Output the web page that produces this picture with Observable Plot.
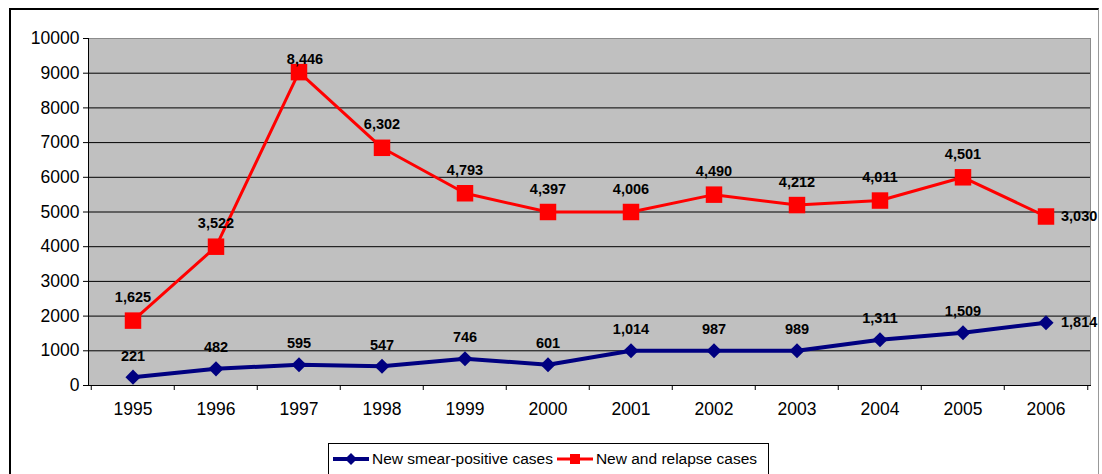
<!DOCTYPE html>
<html>
<head>
<meta charset="utf-8">
<script src="https://cdn.jsdelivr.net/npm/d3@7"></script>
<script src="https://cdn.jsdelivr.net/npm/@observablehq/plot@0.6"></script>
<style>
  html, body { margin: 0; padding: 0; background: #fff; }
  #wrap { position: relative; width: 1102px; height: 474px; overflow: hidden; font-family: "Liberation Sans", Arial, sans-serif; }
  #outer { position: absolute; left: 9px; top: 8px; width: 1090px; height: 500px; border-top: 2px solid #000; border-left: 2px solid #000; border-right: 1px solid #999; box-sizing: border-box; }
  #chart { position: absolute; left: 0; top: 0; }
  #legend { position: absolute; left: 328px; top: 443px; width: 441px; height: 40px; border: 1px solid #000; background: #fff; box-sizing: border-box; display: flex; align-items: flex-start; padding-top: 6px; font-size: 15.5px; color: #000; }
  #legend .item { display: flex; align-items: center; margin-left: 4px; }
  #legend svg { margin-right: 3px; }
</style>
</head>
<body>
<div id="wrap">
  <div id="outer"></div>
  <div id="chart"></div>
  <div id="legend"></div>
</div>
<script>
const years = ["1995","1996","1997","1998","1999","2000","2001","2002","2003","2004","2005","2006"];
const smearValues = [240, 480, 600, 556, 770, 600, 1000, 1000, 1000, 1320, 1520, 1810];
const smearLabels = ["221","482","595","547","746","601","1,014","987","989","1,311","1,509","1,814"];
const relapseValues = [1870, 4000, 9030, 6850, 5540, 5000, 5000, 5500, 5200, 5330, 6000, 4870];
const relapseLabels = ["1,625","3,522","8,446","6,302","4,793","4,397","4,006","4,490","4,212","4,011","4,501","3,030"];
const yTicks = [0,1000,2000,3000,4000,5000,6000,7000,8000,9000,10000];
const seriesNames = ["New smear-positive cases", "New and relapse cases"];
const seriesColors = ["#000080", "#FF0000"];

const smear = years.map((y, i) => ({year: y, value: smearValues[i], label: smearLabels[i]}));
const relapse = years.map((y, i) => ({year: y, value: relapseValues[i], label: relapseLabels[i]}));

const W = 1102, H = 440, ML = 88, MR = 12;
const bw = (W - ML - MR) / years.length;
const last = years[years.length - 1];
const labelFont = {fontWeight: "bold", fontSize: 14.5, fill: "#000"};

const chart = Plot.plot({
  width: W, height: H,
  marginLeft: ML, marginRight: MR, marginTop: 38, marginBottom: 55,
  style: {fontFamily: "'Liberation Sans', Arial, sans-serif", background: "transparent", color: "#000"},
  x: {type: "band", domain: years, padding: 0},
  y: {domain: [0, 10000]},
  marks: [
    Plot.frame({fill: "#C0C0C0", stroke: "#8c8c8c"}),
    Plot.ruleY(yTicks.filter(t => t > 0 && t < 10000), {stroke: "#000", strokeWidth: 1}),
    Plot.frame({anchor: "left", stroke: "#000"}),
    Plot.frame({anchor: "bottom", stroke: "#000"}),
    Plot.axisY({ticks: yTicks, tickSize: 5, tickPadding: 4, tickFormat: d => String(d), fontSize: 17.5, label: null, stroke: "#000"}),
    Plot.axisX({tickSize: 0, tickPadding: 17, fontSize: 17.5, label: null}),
    Plot.axisX({tickSize: 5, tickFormat: () => "", dx: -bw / 2, label: null, stroke: "#000"}),
    Plot.axisX({ticks: [last], tickSize: 5, tickFormat: () => "", dx: bw / 2, label: null, stroke: "#000"}),
    Plot.line(relapse, {x: "year", y: "value", stroke: seriesColors[1], strokeWidth: 3}),
    Plot.dot(relapse, {x: "year", y: "value", symbol: "square", r: 9.3, fill: seriesColors[1], stroke: "none"}),
    Plot.line(smear, {x: "year", y: "value", stroke: seriesColors[0], strokeWidth: 4}),
    Plot.dot(smear, {x: "year", y: "value", symbol: "diamond2", r: 6.8, fill: seriesColors[0], stroke: "none"}),
    Plot.text(relapse, {filter: d => d.year !== last && d.year !== "1997", x: "year", y: "value", text: "label", dy: -23, ...labelFont}),
    Plot.text(relapse, {filter: d => d.year === "1997", x: "year", y: "value", text: "label", dy: -13, dx: 6, ...labelFont}),
    Plot.text(relapse, {filter: d => d.year === last, x: "year", y: "value", text: "label", dx: 15, textAnchor: "start", ...labelFont}),
    Plot.text(smear, {filter: d => d.year !== last, x: "year", y: "value", text: "label", dy: -21, ...labelFont}),
    Plot.text(smear, {filter: d => d.year === last, x: "year", y: "value", text: "label", dx: 15, textAnchor: "start", ...labelFont})
  ]
});
document.getElementById("chart").appendChild(chart);

// legend
const legend = document.getElementById("legend");
const symbols = ["diamond", "square"];
seriesNames.forEach((name, i) => {
  const item = document.createElement("div");
  item.className = "item";
  const ns = "http://www.w3.org/2000/svg";
  const s = document.createElementNS(ns, "svg");
  s.setAttribute("width", 36); s.setAttribute("height", 16);
  const line = document.createElementNS(ns, "line");
  line.setAttribute("x1", 0); line.setAttribute("x2", 36); line.setAttribute("y1", 8); line.setAttribute("y2", 8);
  line.setAttribute("stroke", seriesColors[i]); line.setAttribute("stroke-width", i === 0 ? 4 : 3);
  s.appendChild(line);
  const m = document.createElementNS(ns, "path");
  m.setAttribute("d", symbols[i] === "diamond" ? "M18,2L24,8L18,14L12,8Z" : "M13,3H23V13H13Z");
  m.setAttribute("fill", seriesColors[i]);
  s.appendChild(m);
  item.appendChild(s);
  const t = document.createElement("span");
  t.textContent = name;
  item.appendChild(t);
  legend.appendChild(item);
});
</script>
</body>
</html>
